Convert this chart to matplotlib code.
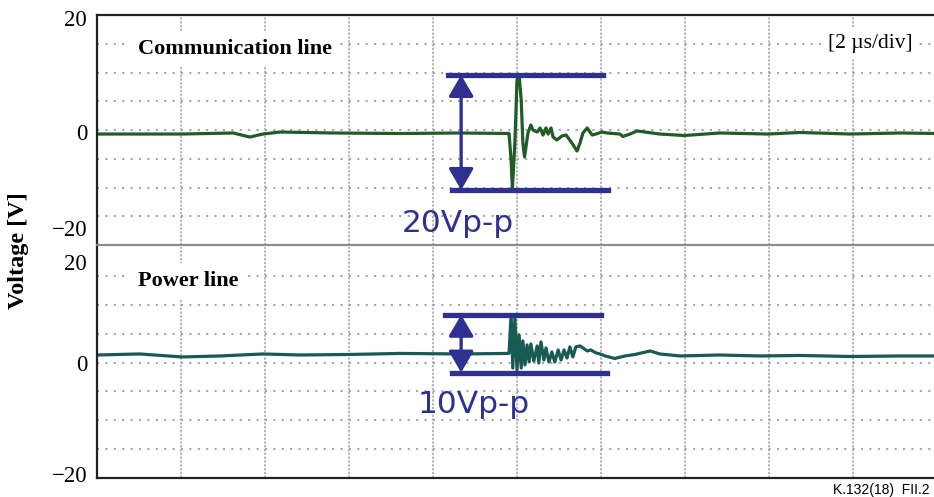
import matplotlib
matplotlib.use("Agg")
import matplotlib.pyplot as plt
import matplotlib.transforms as mtransforms

# Oscilloscope traces: time in µs (2 µs/div), voltage in V
comm_t = [0.0, 1.02, 2.02, 3.24, 3.64, 3.95, 4.36, 5.62, 7.21, 8.64, 9.81, 9.86,
          9.89, 9.95, 10.00, 10.05, 10.10, 10.14, 10.18, 10.26, 10.33, 10.38,
          10.48, 10.55, 10.62, 10.69, 10.74, 10.81, 10.86, 10.95, 11.07, 11.17,
          11.29, 11.43, 11.50, 11.57, 11.67, 11.79, 11.88, 12.02, 12.14, 12.45,
          12.52, 12.69, 12.86, 13.40, 13.98, 14.83, 15.98, 16.74, 17.93, 19.12, 20.0]
comm_v = [-0.70, -0.70, -0.70, -0.52, -1.22, -0.70, -0.35, -0.52, -0.61, -0.52,
          -0.61, -5.22, -10.26, -2.26, 8.70, 9.57, 5.22, -2.26, -4.70, -0.52,
          0.87, 0.0, -0.35, 0.35, -0.87, 0.35, -0.70, 0.35, -1.22, -1.74, -1.04,
          -0.87, -2.09, -3.65, -2.26, -0.52, 0.35, -0.87, -0.70, -0.35, -0.52,
          -0.70, -1.13, -0.70, -0.17, -0.70, -0.96, -0.52, -0.70, -0.43, -0.70,
          -0.52, -0.61]

power_t = [0.0, 1.02, 2.02, 2.93, 3.95, 4.83, 6.02, 7.21, 8.64, 9.81, 9.86, 9.90,
           9.95, 10.00, 10.05, 10.10, 10.14, 10.19, 10.24, 10.29, 10.33, 10.40,
           10.48, 10.52, 10.57, 10.64, 10.69, 10.76, 10.83, 10.90, 10.98, 11.05,
           11.12, 11.19, 11.26, 11.33, 11.40, 11.50, 11.57, 11.67, 11.76, 11.88,
           11.98, 12.10, 12.33, 12.57, 12.81, 13.17, 13.40, 13.88, 14.83, 15.79,
           16.74, 17.93, 19.12, 20.0]
power_v = [1.30, 1.48, 0.96, 1.13, 1.48, 1.30, 1.39, 1.57, 1.48, 1.57, 8.26, -0.96,
           7.74, -1.30, 4.78, -0.96, 3.74, -0.43, 3.04, 0.09, 3.22, 0.26, 2.87,
           -0.09, 3.57, 0.43, 2.52, 0.09, 1.83, 0.09, 2.17, 0.43, 2.17, 0.78, 2.70,
           0.96, 2.70, 2.87, 2.52, 2.00, 2.17, 1.65, 1.48, 1.13, 0.70, 1.13, 1.39,
           2.00, 1.48, 1.13, 1.30, 1.13, 1.22, 1.04, 1.13, 1.13]

panel_titles = ["Communication line", "Power line"]
pp_values = [20, 10]
pp_labels = ["20Vp-p", "10Vp-p"]
ytick_vals = [20, 0, -20]
ytick_text = ["20", "0", "\u221220"]

W, H = 934, 497
blue = "#2e3192"
serif = "Liberation Serif"

fig = plt.figure(figsize=(W / 100, H / 100), dpi=100)
ax_top = fig.add_axes([97 / W, (H - 245) / H, 840 / W, 230 / H])
ax_bot = fig.add_axes([97 / W, (H - 478) / H, 840 / W, 231 / H])

panels = [
    dict(ax=ax_top, t=comm_t, v=comm_v, color="#1f5c26",
         bars=[(8.36, 12.05), (8.45, 12.17)], label_xy=(7.25, -17.7),
         tick_dy=[6, 5, -15], title_y=0.83),
    dict(ax=ax_bot, t=power_t, v=power_v, color="#1a5a55",
         bars=[(8.29, 12.0), (8.45, 12.14)], label_xy=(7.64, -8.8),
         tick_dy=[18, 3, -2], title_y=0.831),
]

for i, p in enumerate(panels):
    ax = p["ax"]
    ax.set_xlim(0, 20)
    ax.set_ylim(-20, 20)
    ax.set_xticks([])
    ax.set_yticks([])

    # scope graticule
    for gx in range(2, 20, 2):
        ax.axvline(gx, color="#a3a3a3", lw=1.1, linestyle=(0, (1.5, 1.0)), zorder=0.5)
    for gy in range(-15, 20, 5):
        ax.axhline(gy, color="#a6a6a6", lw=1.5, linestyle=(0, (1, 3.03)), zorder=0.5)

    ax.plot(p["t"], p["v"], color=p["color"], lw=2.3, zorder=2)

    # peak-to-peak markers
    vmax = max(p["v"])
    vmin = vmax - pp_values[i]
    ax.plot(p["bars"][0], [vmax, vmax], color=blue, lw=3.8, zorder=4)
    ax.plot(p["bars"][1], [vmin, vmin], color=blue, lw=3.8, zorder=4)
    ax.annotate("", xy=(8.67, vmax), xytext=(8.67, vmin),
                arrowprops=dict(arrowstyle="<|-|>,head_length=0.65,head_width=0.38",
                                color=blue, lw=2.4, shrinkA=0, shrinkB=0,
                                mutation_scale=20), zorder=4)
    ax.text(p["label_xy"][0], p["label_xy"][1], pp_labels[i], color=blue,
            fontsize=22.5, family="DejaVu Sans", va="baseline", ha="left", zorder=4)

    ax.text(0.0488, p["title_y"], panel_titles[i], transform=ax.transAxes,
            fontsize=16, fontweight="bold", family=serif, va="baseline", zorder=3,
            bbox=dict(facecolor="white", edgecolor="none", boxstyle="square,pad=0.35"))

    # y tick labels, nudged like the original composite
    trans = mtransforms.blended_transform_factory(ax.transAxes, ax.transData)
    for val, txt, dy in zip(ytick_vals, ytick_text, p["tick_dy"]):
        off = mtransforms.offset_copy(trans, fig=fig, x=0, y=-dy * 0.72, units="points")
        ax.text(-0.0119, val, txt, transform=off, ha="right", va="center",
                fontsize=16.5, family=serif)

    for side in ["top", "bottom", "left", "right"]:
        ax.spines[side].set_visible(False)

ax_top.spines["top"].set_visible(True)
ax_top.spines["top"].set_linewidth(1.6)
ax_top.spines["top"].set_color("#222222")
ax_top.spines["bottom"].set_visible(True)
ax_top.spines["bottom"].set_linewidth(1.6)
ax_top.spines["bottom"].set_color("#8c8c8c")
ax_top.spines["left"].set_visible(True)
ax_top.spines["left"].set_linewidth(1.6)
ax_top.spines["left"].set_color("#222222")
ax_bot.spines["left"].set_visible(True)
ax_bot.spines["left"].set_linewidth(1.6)
ax_bot.spines["left"].set_color("#222222")
ax_bot.spines["bottom"].set_visible(True)
ax_bot.spines["bottom"].set_linewidth(1.6)
ax_bot.spines["bottom"].set_color("#222222")

ax_top.text(0.971, 0.857, "[2 \u00b5s/div]", transform=ax_top.transAxes, ha="right",
            va="baseline", fontsize=15.5, family=serif, zorder=3,
            bbox=dict(facecolor="white", edgecolor="none", boxstyle="square,pad=0.3"))

fig.text(19 / W, (H - 251) / H, "Voltage [V]", rotation=90, ha="center",
         va="center", fontsize=17.5, fontweight="bold", family=serif)
fig.text(930 / W, 3 / H, "K.132(18)  FII.2", fontsize=10, family="Liberation Sans",
         va="baseline", ha="right")

fig.savefig("out.png", dpi=100)
